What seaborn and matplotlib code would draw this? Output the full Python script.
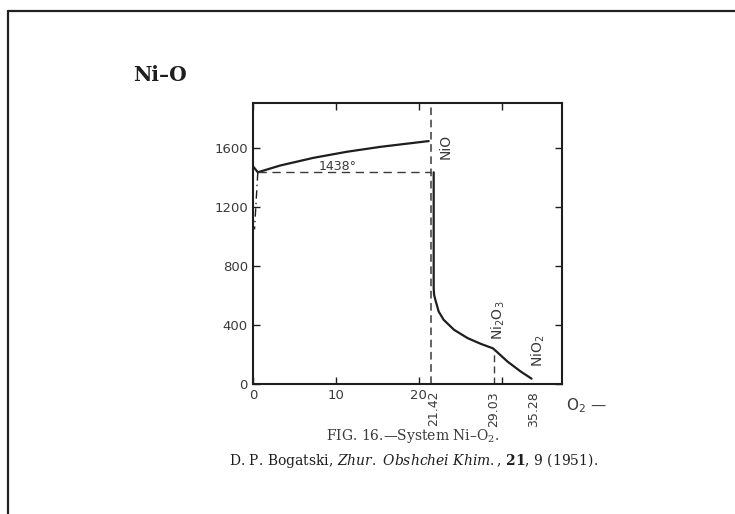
import matplotlib
matplotlib.use("Agg")
import matplotlib.pyplot as plt
import seaborn as sns
from matplotlib.lines import Line2D

# compositions (wt % O2) and temperatures
eutectic_x = 0.6
eutectic_T = 1438
nio_x = 21.42
ni2o3_x = 29.03
nio2_x = 35.28

# liquidus Ni side -> NiO
liq_x = [0.0, 0.6, 3.3, 7.3, 11.3, 15.4, 21.2]
liq_T = [1480, 1438, 1484, 1536, 1577, 1611, 1650]

# short dash line under the eutectic
eut_drop_x = [0.6, 0.2]
eut_drop_T = [1438, 1050]

# decomposition curve NiO -> Ni2O3 -> NiO2
dec_x = [21.8, 21.8, 21.85, 22.0, 22.4, 23.0, 24.25, 25.9, 27.5, 28.9, 29.03, 30.7, 32.3, 33.6]
dec_T = [1438, 650, 606, 572, 492, 436, 368, 311, 272, 243, 238, 152, 84, 36]

y_ticks = [0, 400, 800, 1200, 1600]
x_ticks = [0, 10, 20, 30]
x_tick_labels = ["0", "10", "20", ""]
comp_labels = ["21.42", "29.03", "35.28"]
comp_label_x = [21.75, 29.05, 33.8]

ink = "#1e1e1e"
grey = "#3a3a3a"

sns.set_style("ticks")
plt.rcParams["font.family"] = ["DejaVu Sans"]
plt.rcParams["mathtext.fontset"] = "dejavuserif"

fig = plt.figure(figsize=(7.35, 5.14), dpi=100)
ax = fig.add_axes([0.344, 0.253, 0.421, 0.547])

sns.lineplot(x=liq_x, y=liq_T, ax=ax, color=ink, lw=1.6, sort=False, estimator=None)
sns.lineplot(x=dec_x, y=dec_T, ax=ax, color=ink, lw=1.6, sort=False, estimator=None)
sns.lineplot(x=eut_drop_x, y=eut_drop_T, ax=ax, color=ink, lw=1.0, ls=(0, (6, 3, 1, 3)),
             sort=False, estimator=None)
sns.lineplot(x=[eutectic_x, nio_x], y=[eutectic_T, eutectic_T], ax=ax, color=grey, lw=1.0,
             ls=(0, (6, 4)), sort=False, estimator=None)
ax.axvline(nio_x, color=grey, lw=1.1, ls=(0, (5, 3)))
sns.lineplot(x=[ni2o3_x, ni2o3_x], y=[0, 240], ax=ax, color=grey, lw=1.0, ls=(0, (5, 3)),
             sort=False, estimator=None)

ax.set_xlim(0, 37.3)
ax.set_ylim(0, 1910)
ax.set_xticks(x_ticks)
ax.set_xticklabels(x_tick_labels)
ax.set_yticks(y_ticks)
ax.set_xticks(comp_label_x, minor=True)
ax.set_xticklabels(comp_labels, minor=True, rotation=90, va="top")
ax.tick_params(which="major", direction="in", length=5, width=1, top=True, right=True,
               labelsize=9.5, labelcolor=grey, color=ink)
ax.tick_params(which="minor", length=0, pad=5, labelsize=9, labelcolor=grey)
ax.set_xlabel("")
ax.set_ylabel("")
for s in ax.spines.values():
    s.set_linewidth(1.5)
    s.set_color(ink)

# labels on the diagram
ax.text(10.2, 1478, "1438°", ha="center", va="center", fontsize=9, color=grey)
ax.text(23.2, 1615, "NiO", rotation=90, ha="center", va="center", fontsize=10, color=grey)
ax.text(29.6, 430, "Ni$_2$O$_3$", rotation=90, ha="center", va="center", fontsize=10,
        color=grey, math_fontfamily="dejavusans")
ax.text(34.4, 225, "NiO$_2$", rotation=90, ha="center", va="center", fontsize=10,
        color=grey, math_fontfamily="dejavusans")
ax.text(37.7, -150, "O$_2$ —", ha="left", va="center", fontsize=11, color=grey,
        math_fontfamily="dejavusans")

# title and caption
fig.text(160 / 735, 1 - 75 / 514, "Ni–O", ha="center", va="center", fontsize=14.5,
         fontweight="bold", family="DejaVu Serif", color=ink)
fig.text(413 / 735, 1 - 436 / 514, "FIG. 16.—System Ni–O$_2$.", ha="center", va="center",
         fontsize=10, family="DejaVu Serif", color=grey)
fig.text(414 / 735, 1 - 460 / 514,
         r"D. P. Bogatski, $\mathit{Zhur.\ Obshchei\ Khim.}$, $\mathbf{21}$, 9 (1951).",
         ha="center", va="center", fontsize=10, family="DejaVu Serif", color=ink)

# scan frame: left and top edge
fig.add_artist(Line2D([8 / 735, 8 / 735], [0, 1 - 11 / 514], transform=fig.transFigure,
                      color="#222222", lw=1.6))
fig.add_artist(Line2D([8 / 735, 1], [1 - 11 / 514, 1 - 11 / 514], transform=fig.transFigure,
                      color="#222222", lw=1.6))

fig.savefig("out.png", dpi=100)
plt.close(fig)
